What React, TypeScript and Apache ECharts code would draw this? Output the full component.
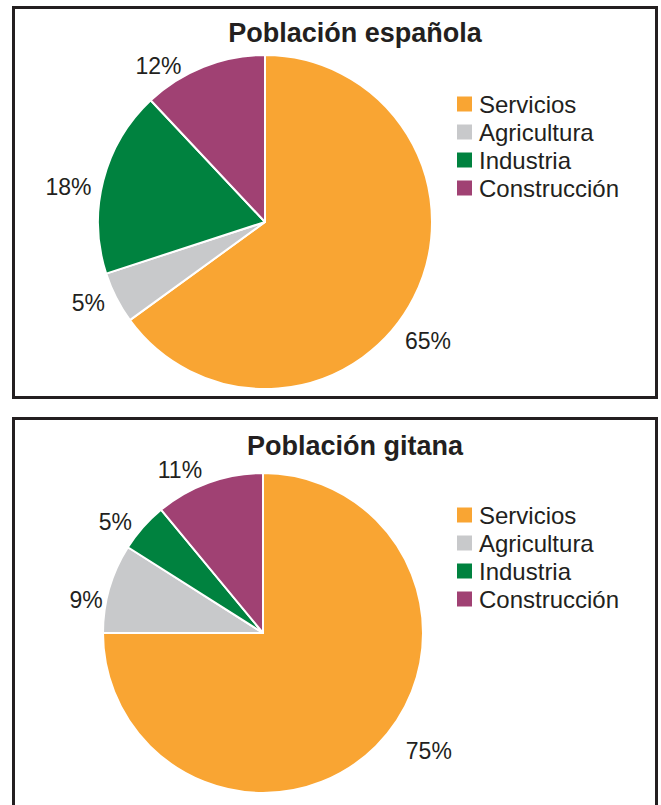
import React, { useEffect, useRef } from "react";
import * as echarts from "echarts";

const categories = ["Servicios", "Agricultura", "Industria", "Construcción"];
const espanolaValues = [65, 5, 18, 12];
const gitanaValues = [75, 9, 5, 11];
const titles = ["Población española", "Población gitana"];
const colors = ["#F9A533", "#C8C9CB", "#00823F", "#A04173"];

const FONT = "'Liberation Sans', Arial, Helvetica, sans-serif";
const INK = "#231f20";

function makePie(
  values: number[],
  center: [number, number],
  radius: number,
  nudges: [number, number][]
) {
  return {
    type: "pie",
    center,
    radius,
    startAngle: 90,
    clockwise: true,
    avoidLabelOverlap: false,
    itemStyle: { borderColor: "#ffffff", borderWidth: 2 },
    label: {
      show: true,
      position: "outside",
      formatter: "{c}%",
      fontFamily: FONT,
      fontSize: 23,
      color: INK,
    },
    labelLine: { show: false, length: 8, length2: 4 },
    labelLayout: (p: any) => {
      const n = nudges[p.dataIndex] || [0, 0];
      return { dx: n[0], dy: n[1] };
    },
    emphasis: { disabled: true },
    data: categories.map((name, i) => ({
      name,
      value: values[i],
      itemStyle: { color: colors[i] },
    })),
  };
}

export default function App() {
  const ref = useRef<HTMLDivElement>(null);
  useEffect(() => {
    if (!ref.current) return;
    const chart = echarts.init(ref.current, null, { renderer: "svg" });
    const legendCommon = {
      orient: "vertical",
      icon: "rect",
      itemWidth: 17,
      itemHeight: 17,
      itemGap: 4,
      left: 455,
      padding: 0,
      selectedMode: false,
      textStyle: { fontFamily: FONT, fontSize: 24, color: INK, lineHeight: 22, padding: [0, 0, 0, 1] },
      data: categories,
    };
    const titleStyle = { fontFamily: FONT, fontSize: 27, fontWeight: "bold", color: INK };
    chart.setOption({
      animation: false,
      title: [
        { text: titles[0], left: 350, top: 14, textAlign: "center", textStyle: titleStyle },
        { text: titles[1], left: 350, top: 427, textAlign: "center", textStyle: titleStyle },
      ],
      legend: [
        { ...legendCommon, top: 92 },
        { ...legendCommon, top: 503 },
      ],
      graphic: [
        {
          type: "rect",
          shape: { x: 13.5, y: 7.5, width: 643, height: 390 },
          style: { fill: "none", stroke: INK, lineWidth: 3 },
          z: -1,
        },
        {
          type: "rect",
          shape: { x: 13.5, y: 418.5, width: 643, height: 420 },
          style: { fill: "none", stroke: INK, lineWidth: 3 },
          z: -1,
        },
      ],
      series: [
        makePie(espanolaValues, [265, 222], 167, [
          [-25, 40],
          [5, 2],
          [5, 9],
          [-10, 7],
        ]),
        makePie(gitanaValues, [263, 633], 160, [
          [15, -1],
          [10, 14],
          [4, 0],
          [5, -5],
        ]),
      ],
    });
    return () => chart.dispose();
  }, []);
  return (
    <div
      ref={ref}
      style={{ position: "absolute", left: 0, top: 0, width: 661, height: 805 }}
    />
  );
}
